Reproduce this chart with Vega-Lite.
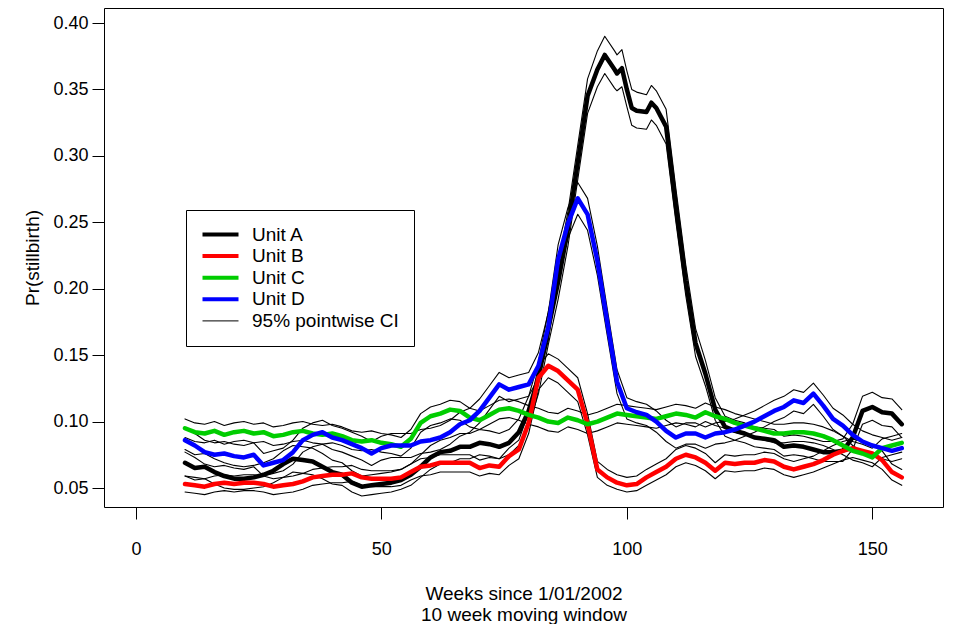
{
  "$schema": "https://vega.github.io/schema/vega-lite/v6.json",
  "width": 839,
  "height": 499,
  "autosize": {"type": "none"},
  "padding": {"left": 104, "top": 8, "right": 15, "bottom": 117},
  "background": "white",
  "config": {
    "font": "Liberation Sans",
    "view": {"stroke": "black", "strokeWidth": 1},
    "axis": {"grid": false, "domain": false, "tickColor": "black", "labelColor": "black", "titleColor": "black", "tickSize": 12, "labelFontSize": 18, "titleFontSize": 19, "titleFontWeight": "normal", "labelFont": "Liberation Sans", "titleFont": "Liberation Sans"},
    "legend": {"orient": "none", "legendX": 82, "legendY": 202, "padding": 15, "rowPadding": 1.6, "strokeColor": "black", "fillColor": "white", "cornerRadius": 0, "labelFontSize": 19, "labelFont": "Liberation Sans", "labelColor": "black", "symbolType": "M-2,0H2", "symbolSize": 324, "symbolOffset": 10, "labelOffset": 22, "labelLimit": 400}
  },
  "data": {"values": [
    {"u":"Unit A","w":10,"p":0.069,"lo":0.059,"hi":0.079},
    {"u":"Unit A","w":12,"p":0.065,"lo":0.056,"hi":0.075},
    {"u":"Unit A","w":14,"p":0.066,"lo":0.057,"hi":0.076},
    {"u":"Unit A","w":16,"p":0.062,"lo":0.053,"hi":0.072},
    {"u":"Unit A","w":18,"p":0.059,"lo":0.050,"hi":0.069},
    {"u":"Unit A","w":20,"p":0.057,"lo":0.049,"hi":0.067},
    {"u":"Unit A","w":22,"p":0.057,"lo":0.049,"hi":0.066},
    {"u":"Unit A","w":24,"p":0.058,"lo":0.050,"hi":0.067},
    {"u":"Unit A","w":26,"p":0.060,"lo":0.051,"hi":0.069},
    {"u":"Unit A","w":28,"p":0.063,"lo":0.054,"hi":0.072},
    {"u":"Unit A","w":30,"p":0.068,"lo":0.058,"hi":0.078},
    {"u":"Unit A","w":32,"p":0.072,"lo":0.062,"hi":0.082},
    {"u":"Unit A","w":34,"p":0.071,"lo":0.061,"hi":0.081},
    {"u":"Unit A","w":36,"p":0.070,"lo":0.060,"hi":0.080},
    {"u":"Unit A","w":38,"p":0.066,"lo":0.057,"hi":0.076},
    {"u":"Unit A","w":40,"p":0.062,"lo":0.053,"hi":0.071},
    {"u":"Unit A","w":42,"p":0.060,"lo":0.052,"hi":0.069},
    {"u":"Unit A","w":44,"p":0.054,"lo":0.047,"hi":0.063},
    {"u":"Unit A","w":46,"p":0.051,"lo":0.044,"hi":0.059},
    {"u":"Unit A","w":48,"p":0.052,"lo":0.045,"hi":0.060},
    {"u":"Unit A","w":50,"p":0.053,"lo":0.046,"hi":0.061},
    {"u":"Unit A","w":52,"p":0.054,"lo":0.047,"hi":0.062},
    {"u":"Unit A","w":54,"p":0.056,"lo":0.049,"hi":0.064},
    {"u":"Unit A","w":56,"p":0.060,"lo":0.052,"hi":0.068},
    {"u":"Unit A","w":58,"p":0.066,"lo":0.058,"hi":0.075},
    {"u":"Unit A","w":60,"p":0.073,"lo":0.064,"hi":0.082},
    {"u":"Unit A","w":62,"p":0.077,"lo":0.068,"hi":0.086},
    {"u":"Unit A","w":64,"p":0.078,"lo":0.069,"hi":0.088},
    {"u":"Unit A","w":66,"p":0.081,"lo":0.072,"hi":0.091},
    {"u":"Unit A","w":68,"p":0.081,"lo":0.072,"hi":0.091},
    {"u":"Unit A","w":70,"p":0.084,"lo":0.075,"hi":0.094},
    {"u":"Unit A","w":72,"p":0.083,"lo":0.074,"hi":0.093},
    {"u":"Unit A","w":74,"p":0.081,"lo":0.072,"hi":0.091},
    {"u":"Unit A","w":76,"p":0.084,"lo":0.075,"hi":0.094},
    {"u":"Unit A","w":78,"p":0.092,"lo":0.082,"hi":0.102},
    {"u":"Unit A","w":80,"p":0.108,"lo":0.097,"hi":0.119},
    {"u":"Unit A","w":82,"p":0.133,"lo":0.121,"hi":0.145},
    {"u":"Unit A","w":84,"p":0.170,"lo":0.158,"hi":0.183},
    {"u":"Unit A","w":86,"p":0.205,"lo":0.192,"hi":0.218},
    {"u":"Unit A","w":88,"p":0.245,"lo":0.232,"hi":0.258},
    {"u":"Unit A","w":90,"p":0.295,"lo":0.282,"hi":0.308},
    {"u":"Unit A","w":92,"p":0.345,"lo":0.332,"hi":0.358},
    {"u":"Unit A","w":94,"p":0.365,"lo":0.352,"hi":0.379},
    {"u":"Unit A","w":95.5,"p":0.376,"lo":0.362,"hi":0.390},
    {"u":"Unit A","w":97.5,"p":0.365,"lo":0.351,"hi":0.379},
    {"u":"Unit A","w":98,"p":0.362,"lo":0.349,"hi":0.376},
    {"u":"Unit A","w":99,"p":0.366,"lo":0.352,"hi":0.380},
    {"u":"Unit A","w":100,"p":0.350,"lo":0.337,"hi":0.364},
    {"u":"Unit A","w":101,"p":0.336,"lo":0.323,"hi":0.350},
    {"u":"Unit A","w":102,"p":0.334,"lo":0.321,"hi":0.348},
    {"u":"Unit A","w":104,"p":0.333,"lo":0.320,"hi":0.346},
    {"u":"Unit A","w":105,"p":0.340,"lo":0.327,"hi":0.353},
    {"u":"Unit A","w":106,"p":0.336,"lo":0.323,"hi":0.349},
    {"u":"Unit A","w":108,"p":0.322,"lo":0.309,"hi":0.335},
    {"u":"Unit A","w":110,"p":0.262,"lo":0.250,"hi":0.275},
    {"u":"Unit A","w":112,"p":0.206,"lo":0.195,"hi":0.218},
    {"u":"Unit A","w":114,"p":0.159,"lo":0.149,"hi":0.170},
    {"u":"Unit A","w":116,"p":0.136,"lo":0.127,"hi":0.146},
    {"u":"Unit A","w":118,"p":0.109,"lo":0.101,"hi":0.118},
    {"u":"Unit A","w":120,"p":0.096,"lo":0.089,"hi":0.104},
    {"u":"Unit A","w":122,"p":0.093,"lo":0.086,"hi":0.101},
    {"u":"Unit A","w":124,"p":0.091,"lo":0.084,"hi":0.099},
    {"u":"Unit A","w":126,"p":0.088,"lo":0.081,"hi":0.096},
    {"u":"Unit A","w":128,"p":0.087,"lo":0.080,"hi":0.095},
    {"u":"Unit A","w":130,"p":0.086,"lo":0.079,"hi":0.094},
    {"u":"Unit A","w":132,"p":0.081,"lo":0.074,"hi":0.089},
    {"u":"Unit A","w":134,"p":0.082,"lo":0.075,"hi":0.090},
    {"u":"Unit A","w":136,"p":0.081,"lo":0.074,"hi":0.089},
    {"u":"Unit A","w":138,"p":0.079,"lo":0.072,"hi":0.087},
    {"u":"Unit A","w":140,"p":0.077,"lo":0.070,"hi":0.085},
    {"u":"Unit A","w":142,"p":0.077,"lo":0.070,"hi":0.085},
    {"u":"Unit A","w":144,"p":0.078,"lo":0.070,"hi":0.087},
    {"u":"Unit A","w":146,"p":0.088,"lo":0.079,"hi":0.098},
    {"u":"Unit A","w":148,"p":0.108,"lo":0.098,"hi":0.119},
    {"u":"Unit A","w":150,"p":0.111,"lo":0.101,"hi":0.122},
    {"u":"Unit A","w":152,"p":0.107,"lo":0.097,"hi":0.118},
    {"u":"Unit A","w":154,"p":0.106,"lo":0.096,"hi":0.117},
    {"u":"Unit A","w":156,"p":0.098,"lo":0.088,"hi":0.109},

    {"u":"Unit B","w":10,"p":0.053,"lo":0.047,"hi":0.059},
    {"u":"Unit B","w":12,"p":0.052,"lo":0.046,"hi":0.058},
    {"u":"Unit B","w":14,"p":0.051,"lo":0.045,"hi":0.057},
    {"u":"Unit B","w":16,"p":0.053,"lo":0.047,"hi":0.059},
    {"u":"Unit B","w":18,"p":0.054,"lo":0.048,"hi":0.060},
    {"u":"Unit B","w":20,"p":0.053,"lo":0.047,"hi":0.059},
    {"u":"Unit B","w":22,"p":0.054,"lo":0.048,"hi":0.060},
    {"u":"Unit B","w":24,"p":0.054,"lo":0.048,"hi":0.060},
    {"u":"Unit B","w":26,"p":0.053,"lo":0.047,"hi":0.059},
    {"u":"Unit B","w":28,"p":0.051,"lo":0.045,"hi":0.057},
    {"u":"Unit B","w":30,"p":0.052,"lo":0.046,"hi":0.058},
    {"u":"Unit B","w":32,"p":0.053,"lo":0.047,"hi":0.059},
    {"u":"Unit B","w":34,"p":0.055,"lo":0.049,"hi":0.061},
    {"u":"Unit B","w":36,"p":0.058,"lo":0.052,"hi":0.064},
    {"u":"Unit B","w":38,"p":0.059,"lo":0.053,"hi":0.065},
    {"u":"Unit B","w":40,"p":0.060,"lo":0.054,"hi":0.066},
    {"u":"Unit B","w":42,"p":0.060,"lo":0.054,"hi":0.066},
    {"u":"Unit B","w":44,"p":0.061,"lo":0.055,"hi":0.067},
    {"u":"Unit B","w":46,"p":0.058,"lo":0.052,"hi":0.064},
    {"u":"Unit B","w":48,"p":0.057,"lo":0.051,"hi":0.063},
    {"u":"Unit B","w":50,"p":0.057,"lo":0.051,"hi":0.063},
    {"u":"Unit B","w":52,"p":0.057,"lo":0.051,"hi":0.063},
    {"u":"Unit B","w":54,"p":0.058,"lo":0.052,"hi":0.064},
    {"u":"Unit B","w":56,"p":0.062,"lo":0.056,"hi":0.068},
    {"u":"Unit B","w":58,"p":0.066,"lo":0.059,"hi":0.072},
    {"u":"Unit B","w":60,"p":0.067,"lo":0.060,"hi":0.073},
    {"u":"Unit B","w":62,"p":0.069,"lo":0.062,"hi":0.075},
    {"u":"Unit B","w":64,"p":0.069,"lo":0.062,"hi":0.075},
    {"u":"Unit B","w":66,"p":0.069,"lo":0.062,"hi":0.075},
    {"u":"Unit B","w":68,"p":0.069,"lo":0.062,"hi":0.075},
    {"u":"Unit B","w":70,"p":0.065,"lo":0.059,"hi":0.071},
    {"u":"Unit B","w":72,"p":0.067,"lo":0.061,"hi":0.073},
    {"u":"Unit B","w":74,"p":0.066,"lo":0.060,"hi":0.072},
    {"u":"Unit B","w":76,"p":0.074,"lo":0.067,"hi":0.080},
    {"u":"Unit B","w":78,"p":0.079,"lo":0.072,"hi":0.086},
    {"u":"Unit B","w":80,"p":0.099,"lo":0.091,"hi":0.107},
    {"u":"Unit B","w":82,"p":0.133,"lo":0.124,"hi":0.142},
    {"u":"Unit B","w":84,"p":0.142,"lo":0.133,"hi":0.151},
    {"u":"Unit B","w":86,"p":0.138,"lo":0.129,"hi":0.147},
    {"u":"Unit B","w":88,"p":0.131,"lo":0.122,"hi":0.140},
    {"u":"Unit B","w":90,"p":0.124,"lo":0.115,"hi":0.133},
    {"u":"Unit B","w":92,"p":0.098,"lo":0.090,"hi":0.106},
    {"u":"Unit B","w":94,"p":0.064,"lo":0.058,"hi":0.070},
    {"u":"Unit B","w":96,"p":0.058,"lo":0.052,"hi":0.064},
    {"u":"Unit B","w":98,"p":0.054,"lo":0.049,"hi":0.060},
    {"u":"Unit B","w":100,"p":0.052,"lo":0.047,"hi":0.058},
    {"u":"Unit B","w":102,"p":0.053,"lo":0.048,"hi":0.059},
    {"u":"Unit B","w":104,"p":0.058,"lo":0.052,"hi":0.064},
    {"u":"Unit B","w":106,"p":0.062,"lo":0.056,"hi":0.068},
    {"u":"Unit B","w":108,"p":0.066,"lo":0.060,"hi":0.072},
    {"u":"Unit B","w":110,"p":0.072,"lo":0.066,"hi":0.079},
    {"u":"Unit B","w":112,"p":0.075,"lo":0.069,"hi":0.082},
    {"u":"Unit B","w":114,"p":0.073,"lo":0.067,"hi":0.080},
    {"u":"Unit B","w":116,"p":0.069,"lo":0.063,"hi":0.076},
    {"u":"Unit B","w":118,"p":0.063,"lo":0.057,"hi":0.069},
    {"u":"Unit B","w":120,"p":0.069,"lo":0.063,"hi":0.075},
    {"u":"Unit B","w":122,"p":0.068,"lo":0.062,"hi":0.074},
    {"u":"Unit B","w":124,"p":0.069,"lo":0.063,"hi":0.075},
    {"u":"Unit B","w":126,"p":0.069,"lo":0.063,"hi":0.075},
    {"u":"Unit B","w":128,"p":0.071,"lo":0.065,"hi":0.077},
    {"u":"Unit B","w":130,"p":0.070,"lo":0.064,"hi":0.076},
    {"u":"Unit B","w":132,"p":0.066,"lo":0.060,"hi":0.072},
    {"u":"Unit B","w":134,"p":0.064,"lo":0.058,"hi":0.070},
    {"u":"Unit B","w":136,"p":0.066,"lo":0.060,"hi":0.072},
    {"u":"Unit B","w":138,"p":0.068,"lo":0.062,"hi":0.074},
    {"u":"Unit B","w":140,"p":0.071,"lo":0.065,"hi":0.078},
    {"u":"Unit B","w":142,"p":0.075,"lo":0.068,"hi":0.082},
    {"u":"Unit B","w":144,"p":0.078,"lo":0.071,"hi":0.085},
    {"u":"Unit B","w":146,"p":0.080,"lo":0.073,"hi":0.087},
    {"u":"Unit B","w":148,"p":0.078,"lo":0.071,"hi":0.085},
    {"u":"Unit B","w":150,"p":0.076,"lo":0.069,"hi":0.083},
    {"u":"Unit B","w":152,"p":0.071,"lo":0.064,"hi":0.078},
    {"u":"Unit B","w":154,"p":0.062,"lo":0.056,"hi":0.068},
    {"u":"Unit B","w":156,"p":0.058,"lo":0.052,"hi":0.064},

    {"u":"Unit C","w":10,"p":0.095,"lo":0.088,"hi":0.102},
    {"u":"Unit C","w":12,"p":0.092,"lo":0.085,"hi":0.099},
    {"u":"Unit C","w":14,"p":0.091,"lo":0.084,"hi":0.098},
    {"u":"Unit C","w":16,"p":0.093,"lo":0.086,"hi":0.100},
    {"u":"Unit C","w":18,"p":0.090,"lo":0.083,"hi":0.097},
    {"u":"Unit C","w":20,"p":0.092,"lo":0.085,"hi":0.099},
    {"u":"Unit C","w":22,"p":0.093,"lo":0.086,"hi":0.100},
    {"u":"Unit C","w":24,"p":0.091,"lo":0.084,"hi":0.098},
    {"u":"Unit C","w":26,"p":0.092,"lo":0.085,"hi":0.099},
    {"u":"Unit C","w":28,"p":0.089,"lo":0.082,"hi":0.096},
    {"u":"Unit C","w":30,"p":0.090,"lo":0.083,"hi":0.097},
    {"u":"Unit C","w":32,"p":0.092,"lo":0.085,"hi":0.099},
    {"u":"Unit C","w":34,"p":0.093,"lo":0.086,"hi":0.100},
    {"u":"Unit C","w":36,"p":0.091,"lo":0.084,"hi":0.098},
    {"u":"Unit C","w":38,"p":0.090,"lo":0.083,"hi":0.097},
    {"u":"Unit C","w":40,"p":0.091,"lo":0.084,"hi":0.098},
    {"u":"Unit C","w":42,"p":0.089,"lo":0.082,"hi":0.096},
    {"u":"Unit C","w":44,"p":0.086,"lo":0.079,"hi":0.093},
    {"u":"Unit C","w":46,"p":0.085,"lo":0.078,"hi":0.092},
    {"u":"Unit C","w":48,"p":0.086,"lo":0.079,"hi":0.093},
    {"u":"Unit C","w":50,"p":0.084,"lo":0.077,"hi":0.091},
    {"u":"Unit C","w":52,"p":0.083,"lo":0.076,"hi":0.090},
    {"u":"Unit C","w":54,"p":0.081,"lo":0.074,"hi":0.088},
    {"u":"Unit C","w":56,"p":0.087,"lo":0.080,"hi":0.094},
    {"u":"Unit C","w":58,"p":0.099,"lo":0.092,"hi":0.106},
    {"u":"Unit C","w":60,"p":0.104,"lo":0.097,"hi":0.111},
    {"u":"Unit C","w":62,"p":0.106,"lo":0.099,"hi":0.113},
    {"u":"Unit C","w":64,"p":0.109,"lo":0.102,"hi":0.116},
    {"u":"Unit C","w":66,"p":0.108,"lo":0.101,"hi":0.115},
    {"u":"Unit C","w":68,"p":0.103,"lo":0.096,"hi":0.110},
    {"u":"Unit C","w":70,"p":0.101,"lo":0.094,"hi":0.108},
    {"u":"Unit C","w":72,"p":0.105,"lo":0.098,"hi":0.112},
    {"u":"Unit C","w":74,"p":0.109,"lo":0.102,"hi":0.116},
    {"u":"Unit C","w":76,"p":0.110,"lo":0.103,"hi":0.117},
    {"u":"Unit C","w":78,"p":0.108,"lo":0.101,"hi":0.115},
    {"u":"Unit C","w":80,"p":0.105,"lo":0.098,"hi":0.112},
    {"u":"Unit C","w":82,"p":0.103,"lo":0.096,"hi":0.110},
    {"u":"Unit C","w":84,"p":0.100,"lo":0.093,"hi":0.107},
    {"u":"Unit C","w":86,"p":0.099,"lo":0.092,"hi":0.106},
    {"u":"Unit C","w":88,"p":0.103,"lo":0.096,"hi":0.110},
    {"u":"Unit C","w":90,"p":0.101,"lo":0.094,"hi":0.108},
    {"u":"Unit C","w":92,"p":0.098,"lo":0.091,"hi":0.105},
    {"u":"Unit C","w":94,"p":0.100,"lo":0.093,"hi":0.107},
    {"u":"Unit C","w":96,"p":0.103,"lo":0.096,"hi":0.110},
    {"u":"Unit C","w":98,"p":0.106,"lo":0.099,"hi":0.113},
    {"u":"Unit C","w":100,"p":0.105,"lo":0.098,"hi":0.112},
    {"u":"Unit C","w":102,"p":0.104,"lo":0.097,"hi":0.111},
    {"u":"Unit C","w":104,"p":0.103,"lo":0.096,"hi":0.110},
    {"u":"Unit C","w":106,"p":0.102,"lo":0.095,"hi":0.109},
    {"u":"Unit C","w":108,"p":0.104,"lo":0.097,"hi":0.111},
    {"u":"Unit C","w":110,"p":0.106,"lo":0.099,"hi":0.113},
    {"u":"Unit C","w":112,"p":0.105,"lo":0.098,"hi":0.112},
    {"u":"Unit C","w":114,"p":0.103,"lo":0.096,"hi":0.110},
    {"u":"Unit C","w":116,"p":0.107,"lo":0.100,"hi":0.114},
    {"u":"Unit C","w":118,"p":0.104,"lo":0.097,"hi":0.111},
    {"u":"Unit C","w":120,"p":0.102,"lo":0.095,"hi":0.109},
    {"u":"Unit C","w":122,"p":0.099,"lo":0.092,"hi":0.106},
    {"u":"Unit C","w":124,"p":0.097,"lo":0.090,"hi":0.104},
    {"u":"Unit C","w":126,"p":0.095,"lo":0.088,"hi":0.102},
    {"u":"Unit C","w":128,"p":0.093,"lo":0.086,"hi":0.100},
    {"u":"Unit C","w":130,"p":0.091,"lo":0.084,"hi":0.098},
    {"u":"Unit C","w":132,"p":0.091,"lo":0.084,"hi":0.098},
    {"u":"Unit C","w":134,"p":0.092,"lo":0.085,"hi":0.099},
    {"u":"Unit C","w":136,"p":0.092,"lo":0.085,"hi":0.099},
    {"u":"Unit C","w":138,"p":0.091,"lo":0.084,"hi":0.098},
    {"u":"Unit C","w":140,"p":0.089,"lo":0.082,"hi":0.096},
    {"u":"Unit C","w":142,"p":0.086,"lo":0.079,"hi":0.093},
    {"u":"Unit C","w":144,"p":0.082,"lo":0.075,"hi":0.089},
    {"u":"Unit C","w":146,"p":0.078,"lo":0.071,"hi":0.085},
    {"u":"Unit C","w":148,"p":0.076,"lo":0.069,"hi":0.083},
    {"u":"Unit C","w":150,"p":0.073,"lo":0.066,"hi":0.080},
    {"u":"Unit C","w":152,"p":0.080,"lo":0.073,"hi":0.087},
    {"u":"Unit C","w":154,"p":0.082,"lo":0.075,"hi":0.089},
    {"u":"Unit C","w":156,"p":0.084,"lo":0.077,"hi":0.091},

    {"u":"Unit D","w":10,"p":0.086,"lo":0.077,"hi":0.095},
    {"u":"Unit D","w":12,"p":0.082,"lo":0.073,"hi":0.091},
    {"u":"Unit D","w":14,"p":0.077,"lo":0.068,"hi":0.086},
    {"u":"Unit D","w":16,"p":0.075,"lo":0.066,"hi":0.084},
    {"u":"Unit D","w":18,"p":0.076,"lo":0.067,"hi":0.085},
    {"u":"Unit D","w":20,"p":0.074,"lo":0.065,"hi":0.083},
    {"u":"Unit D","w":22,"p":0.073,"lo":0.064,"hi":0.082},
    {"u":"Unit D","w":24,"p":0.075,"lo":0.066,"hi":0.084},
    {"u":"Unit D","w":26,"p":0.067,"lo":0.059,"hi":0.076},
    {"u":"Unit D","w":28,"p":0.069,"lo":0.061,"hi":0.078},
    {"u":"Unit D","w":30,"p":0.071,"lo":0.063,"hi":0.080},
    {"u":"Unit D","w":32,"p":0.077,"lo":0.068,"hi":0.086},
    {"u":"Unit D","w":34,"p":0.086,"lo":0.077,"hi":0.095},
    {"u":"Unit D","w":36,"p":0.090,"lo":0.081,"hi":0.099},
    {"u":"Unit D","w":38,"p":0.092,"lo":0.083,"hi":0.101},
    {"u":"Unit D","w":40,"p":0.088,"lo":0.079,"hi":0.097},
    {"u":"Unit D","w":42,"p":0.086,"lo":0.077,"hi":0.095},
    {"u":"Unit D","w":44,"p":0.083,"lo":0.074,"hi":0.092},
    {"u":"Unit D","w":46,"p":0.080,"lo":0.071,"hi":0.089},
    {"u":"Unit D","w":48,"p":0.076,"lo":0.067,"hi":0.085},
    {"u":"Unit D","w":50,"p":0.080,"lo":0.071,"hi":0.089},
    {"u":"Unit D","w":52,"p":0.082,"lo":0.073,"hi":0.091},
    {"u":"Unit D","w":54,"p":0.082,"lo":0.073,"hi":0.091},
    {"u":"Unit D","w":56,"p":0.082,"lo":0.073,"hi":0.091},
    {"u":"Unit D","w":58,"p":0.085,"lo":0.076,"hi":0.094},
    {"u":"Unit D","w":60,"p":0.086,"lo":0.077,"hi":0.095},
    {"u":"Unit D","w":62,"p":0.088,"lo":0.079,"hi":0.097},
    {"u":"Unit D","w":64,"p":0.092,"lo":0.083,"hi":0.101},
    {"u":"Unit D","w":66,"p":0.098,"lo":0.089,"hi":0.107},
    {"u":"Unit D","w":68,"p":0.101,"lo":0.092,"hi":0.110},
    {"u":"Unit D","w":70,"p":0.108,"lo":0.099,"hi":0.117},
    {"u":"Unit D","w":72,"p":0.118,"lo":0.109,"hi":0.127},
    {"u":"Unit D","w":74,"p":0.128,"lo":0.119,"hi":0.137},
    {"u":"Unit D","w":76,"p":0.124,"lo":0.115,"hi":0.133},
    {"u":"Unit D","w":78,"p":0.126,"lo":0.117,"hi":0.135},
    {"u":"Unit D","w":80,"p":0.128,"lo":0.119,"hi":0.137},
    {"u":"Unit D","w":82,"p":0.142,"lo":0.133,"hi":0.152},
    {"u":"Unit D","w":84,"p":0.171,"lo":0.161,"hi":0.182},
    {"u":"Unit D","w":86,"p":0.222,"lo":0.211,"hi":0.233},
    {"u":"Unit D","w":88,"p":0.249,"lo":0.238,"hi":0.261},
    {"u":"Unit D","w":90,"p":0.268,"lo":0.256,"hi":0.280},
    {"u":"Unit D","w":92,"p":0.256,"lo":0.244,"hi":0.268},
    {"u":"Unit D","w":94,"p":0.221,"lo":0.210,"hi":0.232},
    {"u":"Unit D","w":96,"p":0.175,"lo":0.165,"hi":0.185},
    {"u":"Unit D","w":98,"p":0.130,"lo":0.121,"hi":0.139},
    {"u":"Unit D","w":100,"p":0.110,"lo":0.102,"hi":0.118},
    {"u":"Unit D","w":102,"p":0.107,"lo":0.099,"hi":0.115},
    {"u":"Unit D","w":104,"p":0.105,"lo":0.097,"hi":0.113},
    {"u":"Unit D","w":106,"p":0.100,"lo":0.092,"hi":0.108},
    {"u":"Unit D","w":108,"p":0.093,"lo":0.085,"hi":0.101},
    {"u":"Unit D","w":110,"p":0.088,"lo":0.080,"hi":0.096},
    {"u":"Unit D","w":112,"p":0.091,"lo":0.083,"hi":0.099},
    {"u":"Unit D","w":114,"p":0.091,"lo":0.083,"hi":0.099},
    {"u":"Unit D","w":116,"p":0.088,"lo":0.080,"hi":0.096},
    {"u":"Unit D","w":118,"p":0.091,"lo":0.083,"hi":0.099},
    {"u":"Unit D","w":120,"p":0.092,"lo":0.084,"hi":0.100},
    {"u":"Unit D","w":122,"p":0.094,"lo":0.086,"hi":0.102},
    {"u":"Unit D","w":124,"p":0.097,"lo":0.089,"hi":0.105},
    {"u":"Unit D","w":126,"p":0.100,"lo":0.092,"hi":0.108},
    {"u":"Unit D","w":128,"p":0.104,"lo":0.096,"hi":0.112},
    {"u":"Unit D","w":130,"p":0.108,"lo":0.100,"hi":0.116},
    {"u":"Unit D","w":132,"p":0.111,"lo":0.103,"hi":0.119},
    {"u":"Unit D","w":134,"p":0.116,"lo":0.108,"hi":0.124},
    {"u":"Unit D","w":136,"p":0.114,"lo":0.106,"hi":0.122},
    {"u":"Unit D","w":138,"p":0.121,"lo":0.113,"hi":0.129},
    {"u":"Unit D","w":140,"p":0.112,"lo":0.104,"hi":0.120},
    {"u":"Unit D","w":142,"p":0.102,"lo":0.094,"hi":0.110},
    {"u":"Unit D","w":144,"p":0.097,"lo":0.089,"hi":0.105},
    {"u":"Unit D","w":146,"p":0.090,"lo":0.082,"hi":0.098},
    {"u":"Unit D","w":148,"p":0.085,"lo":0.077,"hi":0.093},
    {"u":"Unit D","w":150,"p":0.082,"lo":0.074,"hi":0.090},
    {"u":"Unit D","w":152,"p":0.080,"lo":0.072,"hi":0.088},
    {"u":"Unit D","w":154,"p":0.078,"lo":0.070,"hi":0.086},
    {"u":"Unit D","w":156,"p":0.080,"lo":0.072,"hi":0.088}
  ]},
  "encoding": {
    "x": {"field": "w", "type": "quantitative", "scale": {"domain": [-6.5, 164.4], "nice": false, "zero": false},
      "axis": {"values": [0, 50, 100, 150], "labelPadding": 21, "title": ["Weeks since 1/01/2002", "10 week moving window"], "titlePadding": 26, "titleLineHeight": 21, "labelFlush": false}}
  },
  "layer": [
    {
      "mark": {"type": "line", "strokeJoin": "round", "strokeCap": "round", "color": "black", "strokeWidth": 1.1},
      "encoding": {
        "y": {"field": "lo", "type": "quantitative", "scale": {"domain": [0.0357, 0.4113], "nice": false, "zero": false},
          "axis": {"values": [0.05, 0.10, 0.15, 0.20, 0.25, 0.30, 0.35, 0.40], "format": ".2f", "labelPadding": 4, "title": "Pr(stillbirth)", "titlePadding": 10}},
        "detail": {"field": "u"}
      }
    },
    {
      "mark": {"type": "line", "strokeJoin": "round", "strokeCap": "round", "color": "black", "strokeWidth": 1.1},
      "encoding": {
        "y": {"field": "hi", "type": "quantitative"},
        "detail": {"field": "u"}
      }
    },
    {
      "mark": {"type": "line", "strokeJoin": "round", "strokeCap": "round", "strokeWidth": 4.5},
      "encoding": {
        "y": {"field": "p", "type": "quantitative"},
        "color": {"field": "u", "type": "nominal",
          "scale": {"domain": ["Unit A", "Unit B", "Unit C", "Unit D", "95% pointwise CI"], "range": ["#000000", "#FF0000", "#00CD00", "#0000FF", "#000000"]},
          "legend": {"title": null, "encode": {"symbols": {"update": {"strokeWidth": {"signal": "datum.value === '95% pointwise CI' ? 1 : 4"}}}}}}
      }
    }
  ]
}
